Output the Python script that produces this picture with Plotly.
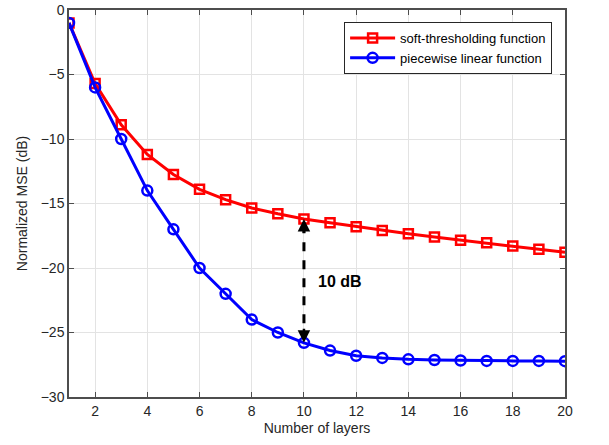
import plotly.graph_objects as go

layers = list(range(1, 21))
soft_mse = [-1.0, -5.7, -8.9, -11.2, -12.75, -13.9, -14.7, -15.35, -15.8, -16.2,
            -16.5, -16.8, -17.1, -17.35, -17.6, -17.85, -18.05, -18.3, -18.55, -18.78]
pwl_mse = [-1.0, -6.0, -10.0, -14.0, -17.0, -20.0, -22.0, -24.0, -25.0, -25.8,
           -26.4, -26.8, -26.97, -27.08, -27.13, -27.17, -27.2, -27.2, -27.2, -27.22]
x_ticks = list(range(2, 21, 2))
y_ticks = [0, -5, -10, -15, -20, -25, -30]
gap_layer = 10
gap_label = "10 dB"

font_family = "Liberation Sans, Arial, sans-serif"
axis_col = "#4d4d4d"

fig = go.Figure()
fig.add_trace(go.Scatter(
    x=layers, y=soft_mse, mode="lines+markers", name="soft-thresholding function",
    line=dict(color="#ff0000", width=3),
    marker=dict(symbol="square-open", size=9, color="#ff0000", line=dict(width=2.5)),
))
fig.add_trace(go.Scatter(
    x=layers, y=pwl_mse, mode="lines+markers", name="piecewise linear function",
    line=dict(color="#0000ff", width=3),
    marker=dict(symbol="circle-open", size=10, color="#0000ff", line=dict(width=2.5)),
))

i = layers.index(gap_layer)
y_top = soft_mse[i]
y_bot = pwl_mse[i]
fig.add_trace(go.Scatter(
    x=[gap_layer, gap_layer], y=[y_top - 0.4, y_bot + 0.4], mode="lines",
    line=dict(color="black", width=3, dash="dash"), showlegend=False, hoverinfo="skip",
))
fig.add_annotation(x=gap_layer, y=y_top, ax=gap_layer, ay=y_top - 1.2,
                   xref="x", yref="y", axref="x", ayref="y", text="",
                   showarrow=True, arrowhead=2, arrowsize=1, arrowwidth=2.5, arrowcolor="black")
fig.add_annotation(x=gap_layer, y=y_bot, ax=gap_layer, ay=y_bot + 1.2,
                   xref="x", yref="y", axref="x", ayref="y", text="",
                   showarrow=True, arrowhead=2, arrowsize=1, arrowwidth=2.5, arrowcolor="black")
fig.add_annotation(x=gap_layer + 0.45, y=(y_top + y_bot) / 2 - 0.05, xref="x", yref="y",
                   text="<b>" + gap_label + "</b>", showarrow=False, xanchor="left",
                   font=dict(size=16, color="black", family=font_family))

fig.update_layout(
    width=609, height=445,
    margin=dict(l=69, r=44, t=10, b=48),
    paper_bgcolor="white", plot_bgcolor="white",
    font=dict(family=font_family, size=13, color="#262626"),
    showlegend=True,
    legend=dict(x=0.974, y=0.969, xanchor="right", yanchor="top",
                bgcolor="white", bordercolor="#262626", borderwidth=1,
                font=dict(size=13, color="black"), tracegroupgap=0,
                itemwidth=45),
    xaxis=dict(
        range=[1, 20], tickvals=x_ticks, ticks="inside", ticklen=5, tickwidth=1,
        tickcolor=axis_col, showline=True, linecolor=axis_col, linewidth=1.5, mirror="ticks",
        showgrid=True, gridcolor="#e3e3e3", gridwidth=1, zeroline=False, automargin=False,
        title=dict(text="Number of layers", font=dict(size=14, color="#262626"), standoff=6),
        tickfont=dict(size=14, color="#262626"),
    ),
    yaxis=dict(
        range=[-30, 0], tickvals=y_ticks, ticks="inside", ticklen=5, tickwidth=1,
        tickcolor=axis_col, showline=True, linecolor=axis_col, linewidth=1.5, mirror="ticks",
        showgrid=True, gridcolor="#e3e3e3", gridwidth=1, zeroline=False, automargin=False,
        title=dict(text="Normalized MSE (dB)", font=dict(size=14, color="#262626"), standoff=10),
        tickfont=dict(size=14, color="#262626"),
    ),
)

fig.write_html("out.html", config={"displayModeBar": False},
               post_script="document.body.style.margin='0px';")
